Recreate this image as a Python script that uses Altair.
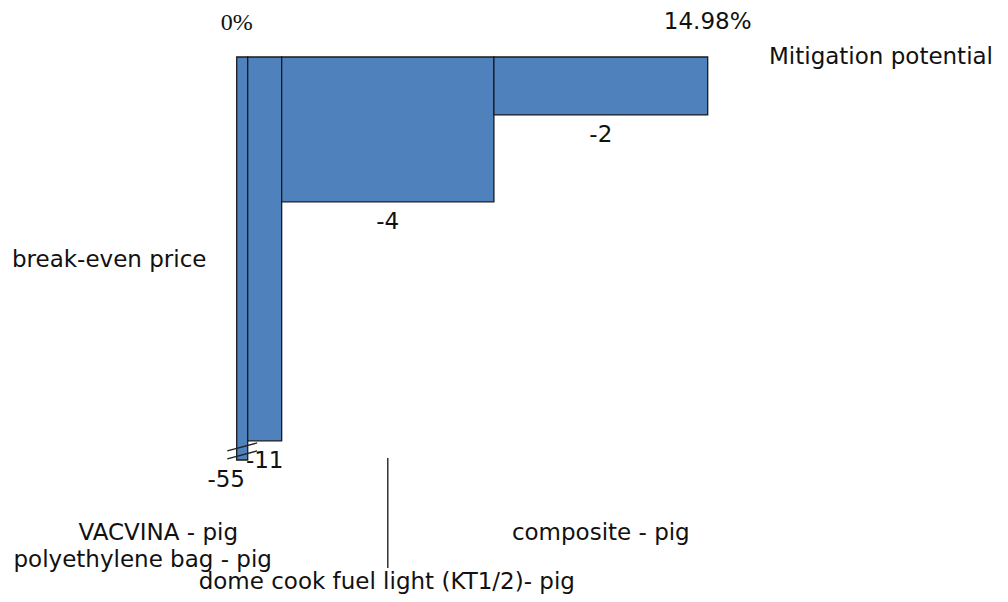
import altair as alt
import pandas as pd

# ---- data ----
categories = ["VACVINA - pig", "polyethylene bag - pig",
              "dome cook fuel light (KT1/2)- pig", "composite - pig"]
potential = [0.35, 1.08, 6.75, 6.80]      # share of mitigation potential (%)
price = [-55, -10.6, -4.0, -1.6]          # break-even price
axis_values = [0, 14.98]
axis_labels = ["0%", "14.98%"]
axis_titles = ["Mitigation potential", "break-even price"]

BREAK = -11.13  # the axis is broken here (the -55 bar is truncated)

df = pd.DataFrame({"category": categories, "potential": potential, "price": price})
df["x1"] = df["potential"].cumsum()
df["x0"] = df["x1"] - df["potential"]
df["mid"] = (df["x0"] + df["x1"]) / 2
df["shown"] = df["price"].clip(lower=BREAK)
df["label"] = [f"{v:.0f}" for v in price]
df["zero"] = 0.0

axis_df = pd.DataFrame({"v": axis_values, "lab": axis_labels})

FONT = "DejaVu Sans"
FS = 23
INK = "#111111"

xs = alt.Scale(domain=[0, 14.98], range=[228.7, 699.7], nice=False, zero=False)
ys = alt.Scale(domain=[BREAK, 0], range=[452, 49], nice=False, zero=False)

def X(f):
    return alt.X(f, type="quantitative", scale=xs, axis=None)

def Y(f):
    return alt.Y(f, type="quantitative", scale=ys, axis=None)

base = alt.Chart(df)

bars = base.mark_rect(color="#4F81BD", stroke="#1a1a1a", strokeWidth=1.3).encode(
    x=X("x0"), x2="x1", y=Y("shown"), y2="zero"
)

value_labels = base.transform_filter(alt.datum.price > BREAK).mark_text(
    font=FONT, fontSize=FS, color=INK, baseline="alphabetic", dy=27
).encode(x=X("mid"), y=Y("shown"), text="label:N")

value_label_broken = base.transform_filter(alt.datum.price <= BREAK).mark_text(
    font=FONT, fontSize=FS, color=INK, baseline="alphabetic", dy=27, dx=-16
).encode(x=X("mid"), y=Y("shown"), text="label:N")

break1 = base.transform_filter(alt.datum.price <= BREAK).transform_calculate(
    bx0="datum.x0 - 0.3", bx1="datum.x1 + 0.3",
    by0="datum.shown + 0.03", by1="datum.shown + 0.25"
).mark_rule(color="#222222", strokeWidth=1.3).encode(
    x=X("bx0:Q"), x2="bx1:Q", y=Y("by0:Q"), y2="by1:Q"
)
break2 = base.transform_filter(alt.datum.price <= BREAK).transform_calculate(
    bx0="datum.x0 - 0.3", bx1="datum.x1 + 0.3",
    by0="datum.shown + 0.25", by1="datum.shown + 0.47"
).mark_rule(color="#222222", strokeWidth=1.3).encode(
    x=X("bx0:Q"), x2="bx1:Q", y=Y("by0:Q"), y2="by1:Q"
)

pointer = base.transform_filter(alt.datum.category == categories[2]).mark_rule(
    color="#333333", strokeWidth=1.5
).encode(x=X("mid"), y=alt.value(450), y2=alt.value(560))

# category labels at the bottom
cat_layers = []
for cat, dx, ypix in [(categories[0], -84, 532), (categories[1], -122, 559),
                      (categories[2], -1, 581), (categories[3], 0, 532)]:
    cat_layers.append(
        base.transform_filter(alt.datum.category == cat).mark_text(
            font=FONT, fontSize=FS, color=INK, baseline="alphabetic", dx=dx
        ).encode(x=X("mid"), y=alt.value(ypix), text="category:N")
    )

tick0 = alt.Chart(axis_df).transform_filter(alt.datum.v == 0).mark_text(
    font="Liberation Serif", fontSize=24, color=INK, baseline="alphabetic"
).encode(x=X("v"), y=alt.value(22), text="lab:N")

tick1 = alt.Chart(axis_df).transform_filter(alt.datum.v > 0).mark_text(
    font=FONT, fontSize=FS, color=INK, baseline="alphabetic"
).encode(x=X("v"), y=alt.value(21), text="lab:N")

title_df = pd.DataFrame({"t": axis_titles})
title_x = alt.Chart(title_df).transform_filter(alt.datum.t == axis_titles[0]).mark_text(
    font=FONT, fontSize=FS, color=INK, baseline="alphabetic", align="left"
).encode(x=alt.value(761), y=alt.value(56), text="t:N")
title_y = alt.Chart(title_df).transform_filter(alt.datum.t == axis_titles[1]).mark_text(
    font=FONT, fontSize=FS, color=INK, baseline="alphabetic", align="left"
).encode(x=alt.value(4), y=alt.value(259), text="t:N")

chart = alt.layer(
    bars, value_labels, value_label_broken, break1, break2, pointer,
    *cat_layers, tick0, tick1, title_x, title_y
).properties(
    width=992, height=586,
    autosize=alt.AutoSizeParams(type="none"),
    padding=0,
    background="white",
).configure_view(stroke=None)

chart.save("out.html", embed_options={"renderer": "svg", "actions": False})
